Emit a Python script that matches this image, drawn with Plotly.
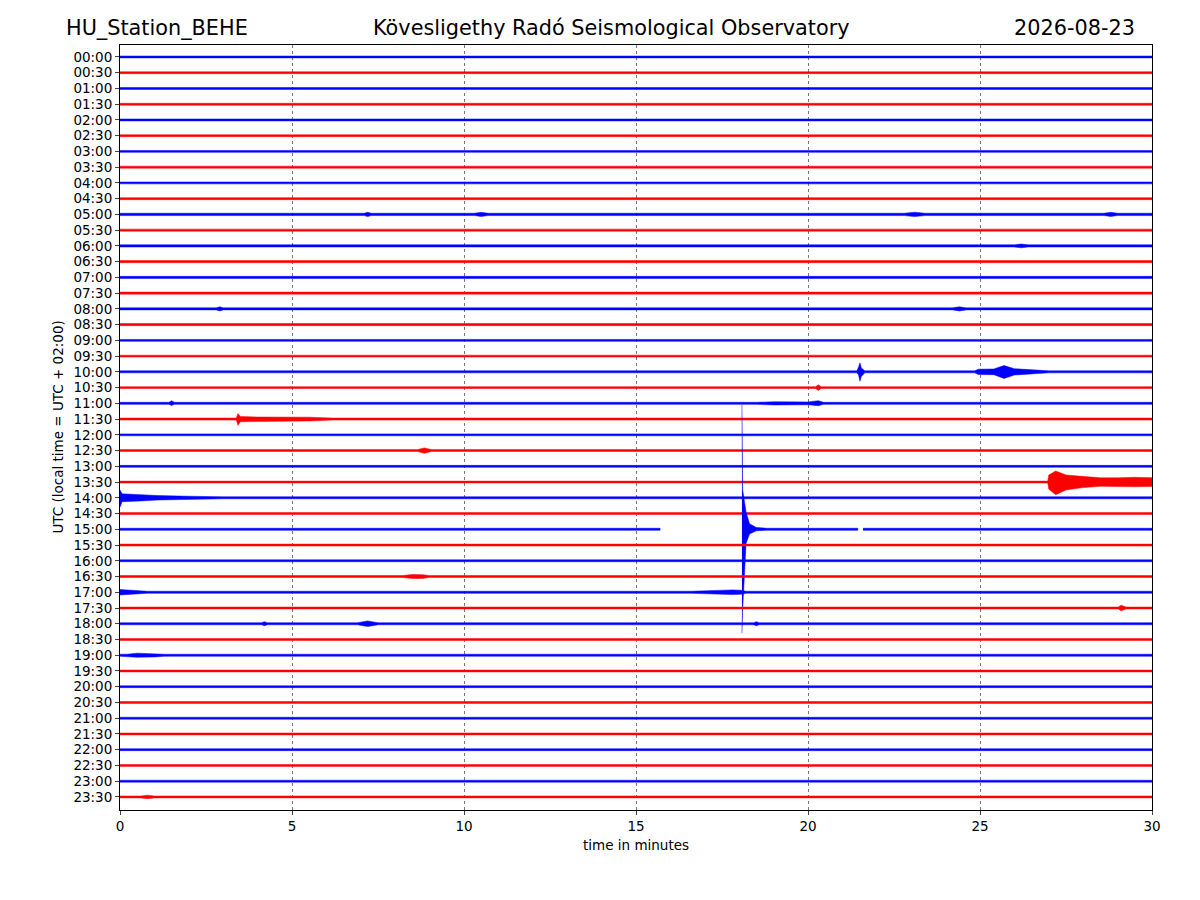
import plotly.graph_objects as go

# one row of the helicorder every 30 minutes, 30 minutes wide
ROW_LABELS = ["00:00", "00:30", "01:00", "01:30", "02:00", "02:30", "03:00", "03:30",
              "04:00", "04:30", "05:00", "05:30", "06:00", "06:30", "07:00", "07:30",
              "08:00", "08:30", "09:00", "09:30", "10:00", "10:30", "11:00", "11:30",
              "12:00", "12:30", "13:00", "13:30", "14:00", "14:30", "15:00", "15:30",
              "16:00", "16:30", "17:00", "17:30", "18:00", "18:30", "19:00", "19:30",
              "20:00", "20:30", "21:00", "21:30", "22:00", "22:30", "23:00", "23:30"]
ROW_COLORS = ["#0000ff", "#ff0000"]

# background noise half-width of each row (row spacing = 1)
BASE_AMP = [0.06, 0.06, 0.06, 0.06, 0.06, 0.06, 0.06, 0.065,
            0.06, 0.065, 0.075, 0.065, 0.07, 0.065, 0.065, 0.065,
            0.065, 0.065, 0.06, 0.06, 0.065, 0.06, 0.065, 0.065,
            0.06, 0.06, 0.06, 0.06, 0.065, 0.06, 0.065, 0.06,
            0.06, 0.06, 0.065, 0.06, 0.065, 0.06, 0.065, 0.06,
            0.06, 0.06, 0.06, 0.06, 0.06, 0.06, 0.06, 0.06]

# envelope of visible events: (row, [(minute, up, down), ...])
EVENTS = [
    (7, [(5.4, 0.065, 0.065), (5.5, 0.11, 0.11), (5.6, 0.065, 0.065)]),
    (10, [(7.1, 0.075, 0.075), (7.2, 0.14, 0.14), (7.3, 0.075, 0.075)]),
    (10, [(10.3, 0.075, 0.075), (10.5, 0.13, 0.13), (10.7, 0.075, 0.075)]),
    (10, [(22.8, 0.075, 0.075), (23.1, 0.14, 0.14), (23.4, 0.075, 0.075)]),
    (10, [(28.6, 0.075, 0.075), (28.8, 0.13, 0.13), (29.0, 0.075, 0.075)]),
    (12, [(26.0, 0.07, 0.07), (26.2, 0.12, 0.12), (26.4, 0.07, 0.07)]),
    (16, [(2.8, 0.065, 0.065), (2.9, 0.13, 0.13), (3.0, 0.065, 0.065)]),
    (16, [(24.2, 0.065, 0.065), (24.4, 0.13, 0.13), (24.6, 0.065, 0.065)]),
    (20, [(21.42, 0.065, 0.065), (21.47, 0.3, 0.2), (21.51, 0.57, 0.6),
          (21.55, 0.25, 0.3), (21.65, 0.065, 0.065)]),
    (20, [(24.85, 0.065, 0.065), (24.95, 0.17, 0.17), (25.4, 0.18, 0.18), (25.7, 0.4, 0.42),
          (26.0, 0.2, 0.2), (26.6, 0.1, 0.1), (27.0, 0.065, 0.065)]),
    (21, [(20.22, 0.06, 0.06), (20.3, 0.18, 0.18), (20.38, 0.06, 0.06)]),
    (22, [(1.42, 0.065, 0.065), (1.5, 0.16, 0.13), (1.58, 0.065, 0.065)]),
    (22, [(18.5, 0.065, 0.065), (19.0, 0.1, 0.1), (20.0, 0.09, 0.09),
          (20.3, 0.17, 0.15), (20.45, 0.065, 0.065)]),
    (23, [(3.38, 0.065, 0.065), (3.43, 0.35, 0.4), (3.5, 0.17, 0.17), (4.0, 0.13, 0.13),
          (5.5, 0.12, 0.12), (6.2, 0.065, 0.065)]),
    (25, [(8.65, 0.06, 0.06), (8.85, 0.17, 0.17), (9.05, 0.06, 0.06)]),
    (27, [(26.97, 0.06, 0.06), (27.0, 0.45, 0.45), (27.2, 0.7, 0.8), (27.5, 0.45, 0.5),
          (28.0, 0.35, 0.35), (28.5, 0.27, 0.27), (29.0, 0.27, 0.27), (29.5, 0.3, 0.3),
          (30.0, 0.28, 0.28)]),
    (28, [(0.0, 0.5, 0.6), (0.06, 0.25, 0.25), (0.6, 0.2, 0.2), (1.1, 0.14, 0.14),
          (2.0, 0.1, 0.1), (3.0, 0.065, 0.065)]),
    (30, [(18.08, 7.9, 6.6), (18.1, 2.5, 5.1), (18.2, 1.1, 0.9), (18.3, 0.35, 0.3),
          (18.5, 0.12, 0.1), (18.8, 0.065, 0.065)]),
    (33, [(8.2, 0.06, 0.06), (8.5, 0.13, 0.13), (8.8, 0.12, 0.12), (9.0, 0.06, 0.06)]),
    (34, [(0.0, 0.17, 0.17), (0.5, 0.1, 0.1), (0.8, 0.065, 0.065)]),
    (34, [(16.6, 0.065, 0.065), (17.0, 0.1, 0.1), (17.8, 0.15, 0.15),
          (18.05, 0.13, 0.13), (18.2, 0.065, 0.065)]),
    (35, [(29.02, 0.06, 0.06), (29.1, 0.18, 0.18), (29.25, 0.06, 0.06)]),
    (36, [(4.12, 0.065, 0.065), (4.2, 0.13, 0.13), (4.28, 0.065, 0.065)]),
    (36, [(6.9, 0.065, 0.065), (7.2, 0.18, 0.18), (7.5, 0.065, 0.065)]),
    (36, [(18.42, 0.065, 0.065), (18.5, 0.13, 0.13), (18.58, 0.065, 0.065)]),
    (38, [(0.2, 0.065, 0.065), (0.5, 0.13, 0.13), (1.0, 0.11, 0.11), (1.3, 0.065, 0.065)]),
    (47, [(0.6, 0.06, 0.06), (0.8, 0.11, 0.11), (1.0, 0.06, 0.06)]),
]

# data gaps: (row, from minute, to minute)
GAPS = [(30, 15.7, 18.08), (30, 21.45, 21.6)]

X_TICKS = [0, 5, 10, 15, 20, 25, 30]

fig = go.Figure()

for i, label in enumerate(ROW_LABELS):
    base = BASE_AMP[i]
    pts = []
    for row, ev in EVENTS:
        if row == i:
            pts.extend(ev)
    pts.sort(key=lambda p: p[0])

    edges = [0.0]
    for row, g0, g1 in GAPS:
        if row == i:
            edges += [g0, g1]
    edges.append(30.0)

    xs, ys = [], []
    for a, b in zip(edges[0::2], edges[1::2]):
        seg = [p for p in pts if a <= p[0] <= b]
        if not seg or seg[0][0] != a:
            seg.insert(0, (a, base, base))
        if seg[-1][0] != b:
            seg.append((b, base, base))
        upper = [(t, -i + up) for t, up, dn in seg]
        lower = [(t, -i - dn) for t, up, dn in seg][::-1]
        xs += [p[0] for p in upper + lower] + [None]
        ys += [p[1] for p in upper + lower] + [None]

    col = ROW_COLORS[i % 2]
    fig.add_trace(go.Scatter(x=xs, y=ys, mode="lines", fill="toself",
                             fillcolor=col, line=dict(color=col, width=0.5),
                             hoverinfo="skip", showlegend=False, name=label))

font = dict(family="DejaVu Sans", color="black")

# page body has an 8px margin at top/left, so the figure is 8px smaller there
fig.update_layout(
    width=1192, height=892,
    margin=dict(l=112, r=48, t=37, b=90),
    plot_bgcolor="white", paper_bgcolor="white",
    font=dict(family="DejaVu Sans", size=13.5, color="black"),
    xaxis=dict(range=[0, 30], tickvals=X_TICKS, ticks="outside", ticklen=4,
               showline=True, linecolor="black", linewidth=1, mirror=True,
               showgrid=True, gridcolor="#777777", gridwidth=0.5, griddash="dot",
               zeroline=False, tickfont=dict(size=13.5)),
    yaxis=dict(range=[-47.83, 0.76], tickvals=[-i for i in range(len(ROW_LABELS))],
               ticktext=ROW_LABELS, ticks="outside", ticklen=4,
               showline=True, linecolor="black", linewidth=1, mirror=True,
               showgrid=False, zeroline=False, tickfont=dict(size=13.5)),
    annotations=[
        dict(text="HU_Station_BEHE", x=-0.0543, y=1.0222, xref="paper", yref="paper",
             xanchor="left", yanchor="middle", showarrow=False, font=dict(size=20.8, **font)),
        dict(text="Kövesligethy Radó Seismological Observatory", x=0.4758, y=1.0222,
             xref="paper", yref="paper", xanchor="center", yanchor="middle",
             showarrow=False, font=dict(size=20.8, **font)),
        dict(text="2026-08-23", x=0.9855, y=1.0222, xref="paper", yref="paper",
             xanchor="right", yanchor="middle", showarrow=False, font=dict(size=20.8, **font)),
        dict(text="time in minutes", x=0.5, y=-0.0458, xref="paper", yref="paper",
             xanchor="center", yanchor="middle", showarrow=False, font=dict(size=13.5, **font)),
        dict(text="UTC (local time = UTC + 02:00)", x=-0.061, y=0.5, xref="paper",
             yref="paper", xanchor="center", yanchor="middle", textangle=-90,
             showarrow=False, font=dict(size=13.5, **font)),
    ],
)

fig.write_html("out.html")
